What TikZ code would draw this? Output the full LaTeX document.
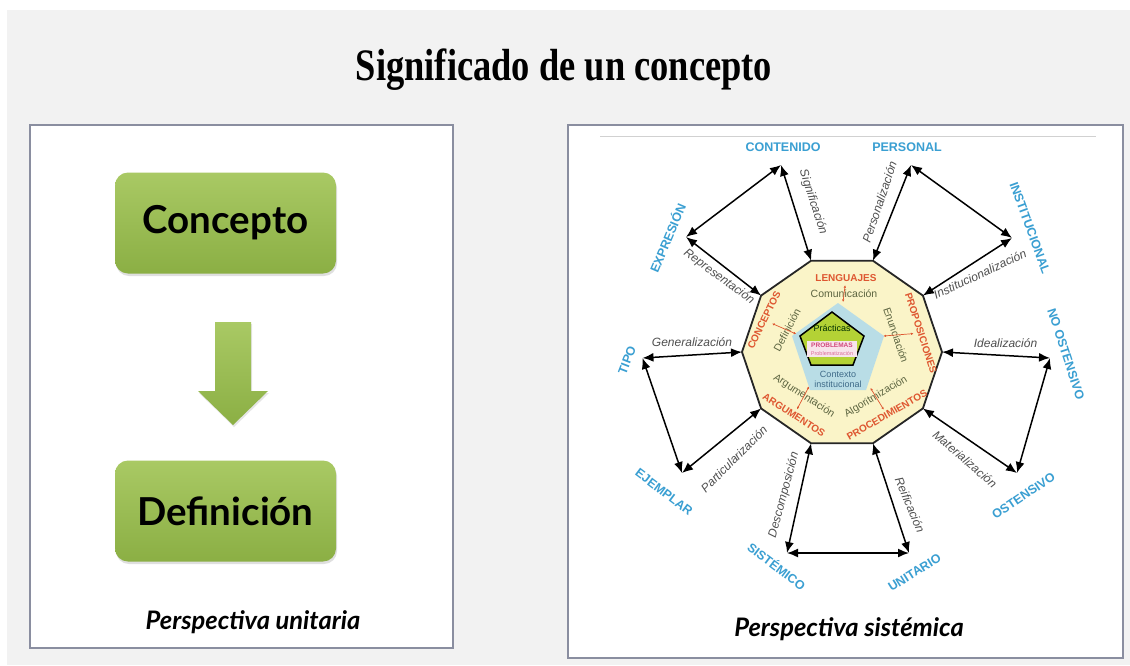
\documentclass[tikz,border=0pt]{standalone}
\usepackage{fontspec}
\setmainfont{Liberation Serif}
\newfontfamily\arialf{Liberation Sans}
\newfontfamily\latof{Lato}
\usetikzlibrary{arrows.meta,shadows,calc}
\definecolor{bgc}{HTML}{F2F2F2}
\definecolor{framec}{HTML}{8A8EA0}
\definecolor{gtop}{HTML}{A9C964}
\definecolor{gbot}{HTML}{8BAF44}
\definecolor{lblue}{HTML}{3A9FD2}
\definecolor{lred}{HTML}{DE5630}
\definecolor{lgray}{HTML}{4F4F4F}
\definecolor{lolive}{HTML}{5C6440}
\definecolor{decfill}{HTML}{FAF4C8}
\definecolor{pblue}{HTML}{B9DDE6}
\definecolor{pgreen}{HTML}{B4D235}
\definecolor{ppink}{HTML}{D2487E}
\definecolor{ctxt}{HTML}{3E6A88}
\begin{document}
\begin{tikzpicture}[x=1pt,y=-1pt,
 panel/.style={draw=framec, line width=2.2pt, fill=white},
 gbox/.style={rectangle, rounded corners=13pt, minimum width=221pt, minimum height=101pt,
   top color=gtop, bottom color=gbot,
   drop shadow={opacity=0.25, shadow xshift=1pt, shadow yshift=-2.5pt},
   font=\latof\bfseries\fontsize{38.5}{42}\selectfont, text=black},
 capt/.style={font=\latof\bfseries\itshape\fontsize{25.5}{28}\selectfont, text=black},
 bl/.style={text=lblue, font=\arialf\bfseries\fontsize{12.5}{14}\selectfont, inner sep=0pt},
 gl/.style={text=lgray, font=\arialf\itshape\fontsize{12}{14}\selectfont, inner sep=0pt},
 rl/.style={text=lred, font=\arialf\bfseries\fontsize{10}{11}\selectfont, inner sep=0pt},
 ol/.style={text=lolive, font=\arialf\fontsize{10.5}{12}\selectfont, inner sep=0pt},
 dar/.style={line width=1.5pt, {Latex[length=11pt,width=9pt]}-{Latex[length=11pt,width=9pt]}},
 rar/.style={draw=lred, line width=0.7pt, {Latex[length=2.5pt,width=2.5pt]}-{Latex[length=2.5pt,width=2.5pt]}}
]
% background
\useasboundingbox (0,0) rectangle (1130,665);
\fill[white] (0,0) rectangle (1130,665);
\fill[bgc] (7,10) rectangle (1130,665);

% title
\node[anchor=base, font=\bfseries\fontsize{45}{50}\selectfont] (title) at (564,80) {\scalebox{0.81}[1]{Significado de un concepto}};

% left panel
\draw[panel] (30,125) rectangle (453,648);
\node[gbox] (concepto) at (225.5,223) {Concepto};
\node[gbox] (definicion) at (225.5,511) {Definición};
\path[top color=gtop, bottom color=gbot, drop shadow={opacity=0.2, shadow xshift=1pt, shadow yshift=-2pt}]
  (215,322) -- (251,322) -- (251,391) -- (268,391) -- (233,425) -- (198,391) -- (215,391) -- cycle;
\node[capt] (cap1) at (253,622) {Perspectiva unitaria};

% right panel
\draw[panel] (568,125) rectangle (1123,658);
\draw[black!18, line width=0.8pt] (600,136) -- (1096,136);

% decagon vertices
\foreach \k in {0,...,9} {
  \coordinate (d\k) at ({842+100*cos(36*\k)},{352-96*sin(36*\k)});
}
\draw[fill=decfill, draw=black!85, line width=1.8pt]
  (d0) -- (d1) -- (d2) -- (d3) -- (d4) -- (d5) -- (d6) -- (d7) -- (d8) -- (d9) -- cycle;

% pentagons
\coordinate (b1) at (838,303); \coordinate (b2) at (884,336); \coordinate (b3) at (866,390);
\coordinate (b4) at (810,390); \coordinate (b5) at (792,336);
\fill[pblue] (b1) -- (b2) -- (b3) -- (b4) -- (b5) -- cycle;
\coordinate (g1) at (832,312); \coordinate (g2) at (864,336); \coordinate (g3) at (853,365);
\coordinate (g4) at (811,365); \coordinate (g5) at (800,336);
\draw[fill=pgreen, draw=black, line width=1.5pt] (g1) -- (g2) -- (g3) -- (g4) -- (g5) -- cycle;
\node[font=\arialf\fontsize{9}{10}\selectfont, text=black!70!green!60!black, inner sep=0pt] (prac) at (832,328) {Prácticas};
\node[fill=white!85!ppink, minimum width=50pt, minimum height=16pt, inner sep=0pt] (probbox) at (832,349) {};
\node[font=\arialf\bfseries\fontsize{6.5}{7}\selectfont, text=ppink, inner sep=0pt] (prob) at (832,345) {PROBLEMAS};
\node[font=\arialf\fontsize{5.5}{6}\selectfont, text=ppink!80, inner sep=0pt] (probz) at (832,353) {Problematización};
\node[font=\arialf\fontsize{9}{10}\selectfont, text=ctxt, inner sep=0pt] (ctx1) at (838,374) {Contexto};
\node[font=\arialf\fontsize{9}{10}\selectfont, text=ctxt, inner sep=0pt] (ctx2) at (838,384) {institucional};

% inner labels
\node[rl] (len) at (846,278) {LENGUAJES};
\node[ol] (com) at (844,294) {Comunicación};
\node[rl, rotate=64] (conc) at (764,320) {CONCEPTOS};
\node[ol, rotate=62] (defi) at (787,330) {Definición};
\node[rl, rotate=-72] (prop) at (921,333) {PROPOSICIONES};
\node[ol, rotate=-71] (enun) at (896,335) {Enunciación};
\node[rl, rotate=-33] (argu) at (794,415) {ARGUMENTOS};
\node[ol, rotate=-33] (argn) at (804,396) {Argumentación};
\node[rl, rotate=30] (proc) at (887,415) {PROCEDIMIENTOS};
\node[ol, rotate=31] (algo) at (876,397) {Algoritmización};
\draw[rar] ($(len)!0.45!(com)$) -- ($(len)!1.5!(com)$);
\draw[rar] ($(conc)!0.35!(defi)$) -- ($(conc)!1.4!(defi)$);
\draw[rar] ($(prop)!0.3!(enun)$) -- ($(prop)!1.5!(enun)$);
\draw[rar] ($(argu)!0.3!(argn)$) -- ($(argu)!1.5!(argn)$);
\draw[rar] ($(proc)!0.3!(algo)$) -- ($(proc)!1.5!(algo)$);

% outer points
\coordinate (cont) at (781,165);
\coordinate (pers) at (911,165);
\coordinate (inst) at (1012,238);
\coordinate (expr) at (686,237);
\coordinate (tipo) at (642.5,358);
\coordinate (noost) at (1050,358);
\coordinate (ejem) at (682,473);
\coordinate (ost) at (1017,473);
\coordinate (sist) at (787,553);
\coordinate (unit) at (909,553);

% outer labels
\node[bl] (Lcont) at (783,147) {CONTENIDO};
\node[bl] (Lpers) at (907,147) {PERSONAL};
\node[bl, rotate=-70] (Linst) at (1030,228) {INSTITUCIONAL};
\node[bl, rotate=67] (Lexpr) at (667,238) {EXPRESIÓN};
\node[bl, rotate=-72] (Lnoost) at (1066,354) {NO OSTENSIVO};
\node[bl, rotate=69] (Ltipo) at (627,360) {TIPO};
\node[bl, rotate=-37] (Lejem) at (664,492) {EJEMPLAR};
\node[bl, rotate=-37] (Lsist) at (777,566) {SISTÉMICO};
\node[bl, rotate=32] (Lunit) at (914.5,572.5) {UNITARIO};
\node[bl, rotate=34] (Lost) at (1023.5,496) {OSTENSIVO};

% connectors
\draw[dar] (cont) -- (d3);
\draw[dar] (pers) -- (d2);
\draw[dar] (inst) -- (d1);
\draw[dar] (expr) -- (d4);
\draw[dar] (tipo) -- (d5);
\draw[dar] (noost) -- (d0);
\draw[dar] (ejem) -- (d6);
\draw[dar] (ost) -- (d9);
\draw[dar] (sist) -- (d7);
\draw[dar] (unit) -- (d8);
\draw[dar] (cont) -- (expr);
\draw[dar] (pers) -- (inst);
\draw[dar] (tipo) -- (ejem);
\draw[dar] (noost) -- (ost);
\draw[dar] (sist) -- (unit);

% connector labels
\node[gl, rotate=-72] (Gsig) at (813,202) {Significación};
\node[gl, rotate=71.5] (Gper) at (879.5,202) {Personalización};
\node[gl, rotate=25] (Gins) at (980,274) {Institucionalización};
\node[gl, rotate=-36] (Grep) at (719,277) {Representación};
\node[gl] (Ggen) at (692,342) {Generalización};
\node[gl] (Gide) at (1005.5,343) {Idealización};
\node[gl, rotate=45] (Gpar) at (734,459) {Particularización};
\node[gl, rotate=-41] (Gmat) at (965,459) {Materialización};
\node[gl, rotate=75] (Gdes) at (784,495) {Descomposición};
\node[gl, rotate=-67] (Grei) at (910,505) {Reificación};

\node[capt] (cap2) at (849,629) {Perspectiva sistémica};
\end{tikzpicture}
\end{document}
